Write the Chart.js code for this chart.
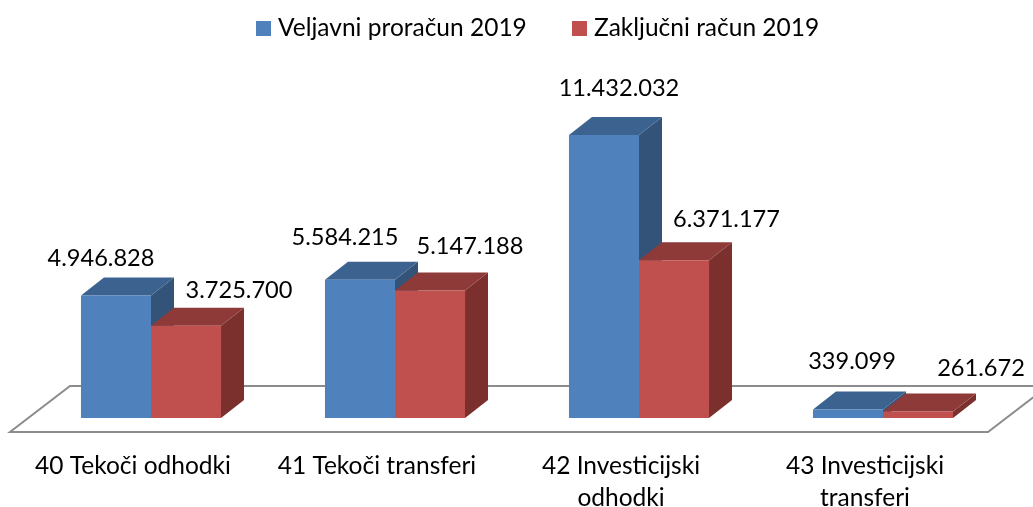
<!DOCTYPE html>
<html lang="sl">
<head>
<meta charset="utf-8">
<title>Proračun 2019</title>
<style>
  html, body { margin: 0; padding: 0; background: #fff; }
  canvas { display: block; }
</style>
<script src="https://cdn.jsdelivr.net/npm/chart.js@4"></script>
</head>
<body>
<canvas id="budgetChart" width="1033" height="507"></canvas>
<script>
const FONT = "Lato, 'Open Sans', sans-serif";
const FONT_SIZE = 24.5;
const VALUE_SIZE = 23.6;

const categories = [
  '40 Tekoči odhodki',
  '41 Tekoči transferi',
  ['42 Investicijski', 'odhodki'],
  ['43 Investicijski', 'transferi'],
];
const seriesNames = ['Veljavni proračun 2019', 'Zaključni račun 2019'];
const veljavni  = [4946828, 5584215, 11432032, 339099];
const zakljucni = [3725700, 5147188, 6371177, 261672];

// colours per series: front, top, side
const FRONT = ['#4f81bd', '#c0504d'];
const TOP   = ['#3c6290', '#8e3a38'];
const SIDE  = ['#335379', '#7b302e'];

// depth of the fake 3D extrusion
const DX = 23, DY = -18;

// hand placed value labels, offset from the middle of the bar top
const labelNudge = [
  [[-15, -37], [-15, -42], [15, -47], [4, -48]],
  [[53, -35], [40, -44], [52.5, -41], [63, -43]],
];

// legend swatch left edges, the built-in legend can't space items this wide
const legendX = [256, 572];
const LEGEND_Y = 21, SWATCH = 15;

const fmt = v => String(v).replace(/\B(?=(\d{3})+$)/g, '.');

function poly(ctx, pts, fill) {
  ctx.beginPath();
  pts.forEach((p, i) => i ? ctx.lineTo(p[0], p[1]) : ctx.moveTo(p[0], p[1]));
  ctx.closePath();
  ctx.fillStyle = fill;
  ctx.fill();
}

const fake3d = {
  id: 'fake3d',
  // floor plane and the top/side faces go under the bar fronts
  beforeDatasetsDraw(chart) {
    const { ctx, chartArea: a } = chart;
    const fy = a.bottom + 14, by = a.bottom - 32;
    ctx.save();
    ctx.strokeStyle = '#8c8c8c';
    ctx.lineWidth = 2;
    ctx.beginPath();
    ctx.moveTo(a.right + 43, by);
    ctx.lineTo(a.left + 41, by);
    ctx.lineTo(a.left - 19, fy);
    ctx.lineTo(a.right - 17, fy);
    ctx.lineTo(a.right + 43, by);
    ctx.stroke();
    chart.data.datasets.forEach((ds, d) => {
      chart.getDatasetMeta(d).data.forEach(bar => {
        const l = bar.x - bar.width / 2, r = bar.x + bar.width / 2;
        poly(ctx, [[r, bar.y], [r + DX, bar.y + DY], [r + DX, bar.base + DY], [r, bar.base]], SIDE[d]);
        poly(ctx, [[l, bar.y], [l + DX, bar.y + DY], [r + DX, bar.y + DY], [r, bar.y]], TOP[d]);
      });
    });
    ctx.restore();
  },
  // value labels and the legend
  afterDatasetsDraw(chart) {
    const { ctx } = chart;
    ctx.save();
    ctx.font = VALUE_SIZE + 'px ' + FONT;
    ctx.fillStyle = '#000';
    ctx.textAlign = 'center';
    ctx.textBaseline = 'middle';
    chart.data.datasets.forEach((ds, d) => {
      chart.getDatasetMeta(d).data.forEach((bar, i) => {
        const n = labelNudge[d][i];
        ctx.fillText(fmt(ds.data[i]), bar.x + n[0], bar.y + n[1]);
      });
    });
    ctx.font = FONT_SIZE + 'px ' + FONT;
    ctx.textAlign = 'left';
    chart.data.datasets.forEach((ds, d) => {
      ctx.fillStyle = FRONT[d];
      ctx.fillRect(legendX[d], LEGEND_Y, SWATCH, SWATCH);
      ctx.fillStyle = '#000';
      ctx.fillText(ds.label, legendX[d] + SWATCH + 7, LEGEND_Y + SWATCH / 2);
    });
    ctx.restore();
  }
};

new Chart(document.getElementById('budgetChart'), {
  type: 'bar',
  data: {
    labels: categories,
    datasets: [
      { label: seriesNames[0], data: veljavni,  backgroundColor: FRONT[0] },
      { label: seriesNames[1], data: zakljucni, backgroundColor: FRONT[1] },
    ]
  },
  options: {
    responsive: false,
    animation: false,
    layout: { padding: { left: 29, right: 28, top: 50, bottom: 0 } },
    datasets: { bar: { barPercentage: 1, categoryPercentage: 0.574, borderWidth: 0 } },
    plugins: {
      tooltip: { enabled: false },
      legend: { display: false }
    },
    scales: {
      x: {
        border: { display: false },
        grid: { display: false },
        afterFit: s => { s.height = 89; },
        ticks: {
          color: '#000',
          font: { family: FONT, size: FONT_SIZE, lineHeight: 1.3 },
          autoSkip: false, maxRotation: 0, minRotation: 0,
          labelOffset: -18,
          padding: 24,
        }
      },
      y: { display: false, min: 0, max: 14870000 }
    }
  },
  plugins: [fake3d]
});
</script>
</body>
</html>
